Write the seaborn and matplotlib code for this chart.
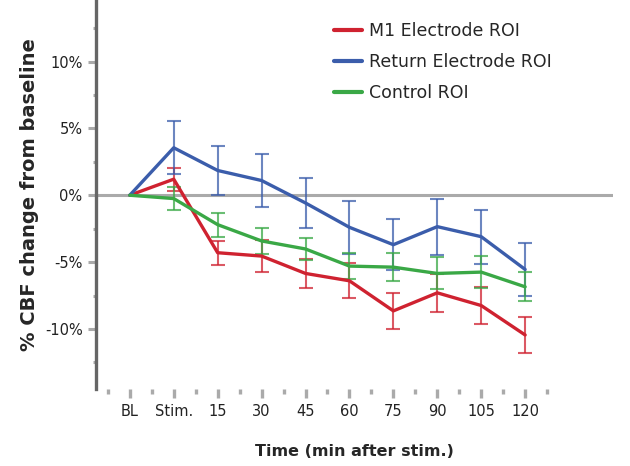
import numpy as np
import pandas as pd
import matplotlib.pyplot as plt
from matplotlib.ticker import MultipleLocator, FuncFormatter
import seaborn as sns

# Data (% CBF change from baseline)
time_labels = ["BL", "Stim.", "15", "30", "45", "60", "75", "90", "105", "120"]
series_names = ["M1 Electrode ROI", "Return Electrode ROI", "Control ROI"]

m1_mean = [0.0, 1.2, -4.3, -4.55, -5.85, -6.4, -8.65, -7.3, -8.25, -10.45]
m1_err = [0.0, 0.85, 0.9, 1.2, 1.1, 1.3, 1.35, 1.4, 1.38, 1.35]

ret_mean = [0.0, 3.55, 1.85, 1.1, -0.58, -2.4, -3.7, -2.35, -3.1, -5.55]
ret_err = [0.0, 2.0, 1.85, 1.97, 1.9, 2.0, 1.9, 2.1, 2.03, 1.95]

ctl_mean = [0.0, -0.25, -2.2, -3.42, -4.02, -5.3, -5.38, -5.85, -5.75, -6.85]
ctl_err = [0.0, 0.85, 0.9, 1.0, 0.85, 1.0, 1.03, 1.2, 1.2, 1.08]

colors = ["#cf2230", "#3b5dab", "#3aa846"]

sns.set_style("white")
plt.rcParams["font.family"] = ["DejaVu Sans"]

x = np.arange(len(time_labels))
df = pd.concat([
    pd.DataFrame({"x": x, "value": m1_mean, "err": m1_err, "series": series_names[0]}),
    pd.DataFrame({"x": x, "value": ret_mean, "err": ret_err, "series": series_names[1]}),
    pd.DataFrame({"x": x, "value": ctl_mean, "err": ctl_err, "series": series_names[2]}),
])

fig = plt.figure(figsize=(6.3, 4.66), dpi=100)
ax = fig.add_axes([0.152, 0.165, 0.821, 0.835])

# zero reference line
ax.axhline(0, color="#aaaaaa", lw=2.2, zorder=1)

# error bars (skip baseline)
for name, col in zip(series_names, colors):
    sub = df[(df["series"] == name) & (df["x"] > 0)]
    ax.errorbar(sub["x"], sub["value"], yerr=sub["err"], fmt="none",
                ecolor=col, alpha=0.75, elinewidth=1.5, capsize=4.8,
                capthick=1.5, zorder=2)

sns.lineplot(data=df, x="x", y="value", hue="series", hue_order=series_names,
             palette=colors, linewidth=2.4, ax=ax, zorder=3)

ax.set_xlim(-0.775, 11.0)
ax.set_ylim(-14.5, 14.6)

ax.set_xticks(x)
ax.set_xticklabels(time_labels)
ax.set_xticks(np.arange(-0.5, 10, 1), minor=True)
ax.yaxis.set_major_locator(MultipleLocator(5))
ax.yaxis.set_minor_locator(MultipleLocator(2.5))
ax.yaxis.set_major_formatter(FuncFormatter(lambda v, p: f"{v:.0f}%"))

ax.tick_params(axis="x", which="both", bottom=True, direction="out")
ax.tick_params(axis="y", which="both", left=True, direction="out")
ax.tick_params(axis="x", which="major", length=6.5, width=2.4, color="#aaaaaa",
               pad=4, labelsize=10.5, labelcolor="#222222")
ax.tick_params(axis="x", which="minor", length=3.5, width=2.4, color="#aaaaaa")
ax.tick_params(axis="y", which="major", length=5.5, width=2.2, color="#aaaaaa",
               pad=4, labelsize=10.5, labelcolor="#222222")
ax.tick_params(axis="y", which="minor", length=2.5, width=2.2, color="#aaaaaa")

for side in ["top", "right", "bottom"]:
    ax.spines[side].set_visible(False)
ax.spines["left"].set_color("#666666")
ax.spines["left"].set_linewidth(2.4)

ax.set_xlabel("Time (min after stim.)", fontsize=11.5, fontweight="bold",
              labelpad=18)
ax.set_ylabel("% CBF change from baseline", fontsize=14, fontweight="bold",
              labelpad=4)

leg = ax.legend(loc="upper left", bbox_to_anchor=(0.530, 0.953),
                bbox_transform=fig.transFigure, frameon=False, fontsize=12.5,
                handlelength=1.6, handletextpad=0.4, labelspacing=0.75,
                borderaxespad=0, borderpad=0)
for line in leg.get_lines():
    line.set_linewidth(3)

fig.savefig("out.png", dpi=100)
